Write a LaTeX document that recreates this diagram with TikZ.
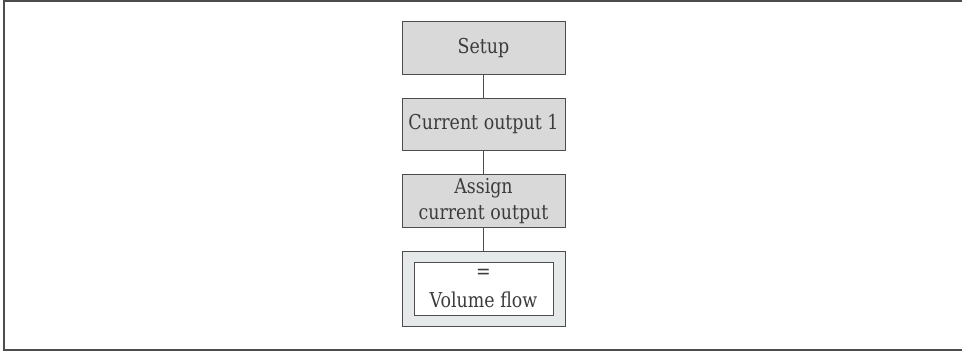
\documentclass[tikz,border=0pt]{standalone}
\usepackage{fontspec}
\setmainfont[FakeStretch=0.85]{DejaVu Serif}
\usetikzlibrary{positioning}
\definecolor{boxgray}{HTML}{D9D9D9}
\definecolor{valgray}{HTML}{E6E9EA}
\definecolor{linegray}{HTML}{4D4D4D}
\definecolor{textgray}{HTML}{3C3C3C}

\begin{document}
\begin{tikzpicture}[x=1pt, y=-1pt, menu/.style={rectangle, draw=linegray, fill=boxgray, line width=0.9pt, text=textgray, minimum width=163pt, minimum height=52.5pt, inner sep=0pt, align=center}, value/.style={menu, fill=white, minimum width=139pt, minimum height=53pt}, every node/.style={font=\fontsize{20.5}{26}\selectfont}, node distance=23pt]
	\useasboundingbox (0,0) rectangle (962,351);

	% Frame
	\draw[linegray, line width=2pt] (962,1) -- (3.5,1) -- (3.5,349.5) -- (962,349.5);

	% Nodes
	\node[menu] (setup) at (483.5,48) {Setup};
	\node[menu, below=of setup] (cur) {Current output 1};
	\node[menu, below=of cur] (assign) {Assign\\current output};
	\node[menu, fill=valgray, minimum height=75pt, below=of assign] (vfbox) {};
	\node[value] (vfval) at (vfbox) {=\\[3pt]Volume flow};

	% Connections
	\draw[linegray, line width=0.9pt] (setup) -- (cur);
	\draw[linegray, line width=0.9pt] (cur) -- (assign);
	\draw[linegray, line width=0.9pt] (assign) -- (vfbox);
\end{tikzpicture}
\end{document}
